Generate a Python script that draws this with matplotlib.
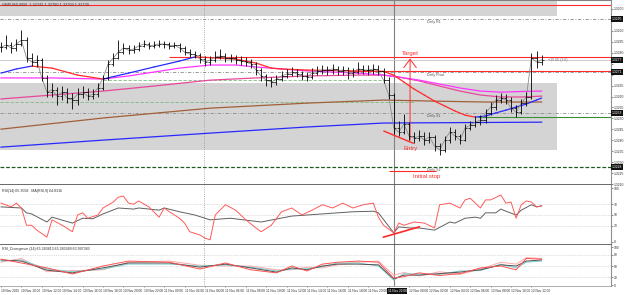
import matplotlib
matplotlib.use('Agg')
import matplotlib.pyplot as plt
import numpy as np

plt.rcParams['font.family'] = ['Liberation Sans', 'DejaVu Sans']

# GBPUSD M30 bars
closes = [1.32826, 1.32835, 1.32822, 1.32840, 1.32858, 1.32776, 1.32758, 1.32767, 1.32685, 1.32620,
          1.32630, 1.32602, 1.32620, 1.32593, 1.32584, 1.32611, 1.32620, 1.32602, 1.32611, 1.32639,
          1.32685, 1.32749, 1.32776, 1.32803, 1.32822, 1.32812, 1.32817, 1.32831, 1.32840, 1.32831,
          1.32835, 1.32840, 1.32840, 1.32831, 1.32835, 1.32822, 1.32803, 1.32794, 1.32790, 1.32771,
          1.32758, 1.32767, 1.32780, 1.32785, 1.32776, 1.32776, 1.32767, 1.32762, 1.32758, 1.32749,
          1.32721, 1.32694, 1.32675, 1.32666, 1.32680, 1.32694, 1.32703, 1.32712, 1.32703, 1.32694,
          1.32689, 1.32707, 1.32717, 1.32721, 1.32721, 1.32726, 1.32717, 1.32721, 1.32707, 1.32712,
          1.32726, 1.32721, 1.32721, 1.32726, 1.32717, 1.32675, 1.32607, 1.32456, 1.32438, 1.32474,
          1.32420, 1.32410, 1.32420, 1.32401, 1.32415, 1.32374, 1.32356, 1.32401, 1.32438, 1.32420,
          1.32401, 1.32456, 1.32470, 1.32483, 1.32493, 1.32525, 1.32552, 1.32584, 1.32593, 1.32584,
          1.32547, 1.32529, 1.32570, 1.32598, 1.32776, 1.32758, 1.32767]
highs = [1.32850, 1.32880, 1.32850, 1.32865, 1.32905, 1.32870, 1.32800, 1.32790, 1.32775, 1.32700,
         1.32660, 1.32645, 1.32650, 1.32640, 1.32615, 1.32640, 1.32650, 1.32640, 1.32635, 1.32660,
         1.32700, 1.32765, 1.32800, 1.32860, 1.32845, 1.32835, 1.32835, 1.32850, 1.32860, 1.32850,
         1.32855, 1.32860, 1.32855, 1.32850, 1.32850, 1.32845, 1.32830, 1.32815, 1.32810, 1.32800,
         1.32785, 1.32785, 1.32810, 1.32815, 1.32800, 1.32795, 1.32790, 1.32785, 1.32780, 1.32770,
         1.32760, 1.32730, 1.32705, 1.32690, 1.32700, 1.32715, 1.32725, 1.32735, 1.32725, 1.32715,
         1.32710, 1.32730, 1.32740, 1.32745, 1.32740, 1.32750, 1.32740, 1.32740, 1.32735, 1.32730,
         1.32760, 1.32745, 1.32745, 1.32750, 1.32745, 1.32730, 1.32690, 1.32615, 1.32490, 1.32520,
         1.32485, 1.32440, 1.32445, 1.32440, 1.32440, 1.32425, 1.32390, 1.32420, 1.32460, 1.32450,
         1.32430, 1.32475, 1.32490, 1.32510, 1.32515, 1.32545, 1.32575, 1.32605, 1.32615, 1.32610,
         1.32600, 1.32560, 1.32590, 1.32620, 1.32800, 1.32810, 1.32790]
lows = [1.32805, 1.32815, 1.32800, 1.32810, 1.32830, 1.32760, 1.32740, 1.32735, 1.32670, 1.32600,
        1.32600, 1.32560, 1.32585, 1.32570, 1.32545, 1.32560, 1.32595, 1.32585, 1.32590, 1.32600,
        1.32630, 1.32675, 1.32740, 1.32770, 1.32795, 1.32795, 1.32800, 1.32810, 1.32825, 1.32815,
        1.32820, 1.32825, 1.32820, 1.32815, 1.32820, 1.32805, 1.32790, 1.32780, 1.32775, 1.32755,
        1.32740, 1.32745, 1.32760, 1.32770, 1.32760, 1.32760, 1.32750, 1.32745, 1.32740, 1.32730,
        1.32700, 1.32670, 1.32650, 1.32645, 1.32655, 1.32670, 1.32685, 1.32695, 1.32690, 1.32675,
        1.32670, 1.32680, 1.32700, 1.32705, 1.32700, 1.32705, 1.32700, 1.32700, 1.32680, 1.32690,
        1.32705, 1.32705, 1.32700, 1.32705, 1.32700, 1.32660, 1.32590, 1.32430, 1.32420, 1.32430,
        1.32400, 1.32390, 1.32395, 1.32380, 1.32390, 1.32350, 1.32335, 1.32345, 1.32390, 1.32400,
        1.32385, 1.32395, 1.32445, 1.32460, 1.32470, 1.32480, 1.32515, 1.32540, 1.32570, 1.32565,
        1.32530, 1.32505, 1.32520, 1.32555, 1.32590, 1.32730, 1.32745]

# moving averages (bar index, price)
ma_long_idx = [0, 20, 41, 60, 75, 90, 106]
ma_long = [1.32369, 1.32401, 1.32433, 1.32461, 1.32479, 1.32481, 1.32483]
ma_brown_idx = [0, 20, 41, 60, 75, 85, 95, 106]
ma_brown = [1.32451, 1.32502, 1.32547, 1.32570, 1.32584, 1.32579, 1.32575, 1.32575]
ma_mid_idx = [0, 3, 6, 10, 15, 20, 25, 30, 35, 38, 40, 46, 50, 53, 55, 60, 65, 70, 75,
              77, 79, 81, 83, 85, 87, 89, 91, 93, 95, 97, 99, 101, 103, 105, 106]
ma_mid = [1.32707, 1.32726, 1.32739, 1.32730, 1.32698, 1.32680, 1.32707, 1.32735, 1.32762, 1.32781,
          1.32779, 1.32771, 1.32753, 1.32730, 1.32726, 1.32721, 1.32719, 1.32717, 1.32715,
          1.32698, 1.32666, 1.32634, 1.32607, 1.32579, 1.32557, 1.32534, 1.32515, 1.32506, 1.32511,
          1.32525, 1.32538, 1.32552, 1.32566, 1.32584, 1.32593]
ma_mag_idx = [0, 10, 20, 25, 30, 35, 41, 46, 50, 55, 60, 65, 70, 75, 78, 82, 86, 90, 94, 98, 102, 106]
ma_mag = [1.32685, 1.32685, 1.32680, 1.32694, 1.32712, 1.32730, 1.32744, 1.32744, 1.32735, 1.32726,
          1.32717, 1.32712, 1.32707, 1.32698, 1.32689, 1.32675, 1.32657, 1.32639, 1.32625, 1.32620,
          1.32623, 1.32625]
ma_pink_idx = [0, 10, 20, 30, 41, 50, 60, 70, 75, 78, 82, 86, 90, 94, 98, 102, 106]
ma_pink = [1.32589, 1.32607, 1.32625, 1.32648, 1.32675, 1.32685, 1.32694, 1.32698, 1.32698, 1.32689,
           1.32671, 1.32648, 1.32625, 1.32607, 1.32598, 1.32598, 1.32602]

# levels
daily_r1, daily_pivot, daily_s1, daily_s2 = 1.32954, 1.32712, 1.32525, 1.32278
current_price = 1.32767
target_level = 1.32780
red_top, red_low = 1.33018, 1.32717
green_upper, green_lower, green_solid = 1.32675, 1.32575, 1.32506
box_top = (1.32968, 1.33060)
box_low = (1.32356, 1.32662)

# RSI panel
rsi_idx = [0, 2, 3, 4, 5, 6, 7, 9, 10, 12, 14, 15, 16, 17, 19, 20, 22, 23, 24, 25,
           26, 27, 29, 31, 32, 33, 35, 36, 37, 39, 40, 41, 42, 44, 46, 48, 50, 51, 53, 55,
           57, 59, 61, 63, 65, 67, 69, 71, 73, 74, 75, 77, 78, 79, 81, 83, 85, 86, 88, 90,
           91, 92, 94, 95, 96, 98, 99, 100, 101, 102, 103, 104, 105, 106]
rsi_val = [72, 65, 72, 63, 31, 31, 22, 9, 41, 31, 19, 50, 54, 44, 50, 63, 74, 83, 85, 72,
           70, 76, 65, 46, 63, 56, 44, 35, 19, 13, 7, 4, 50, 69, 59, 41, 26, 19, 31, 56,
           63, 50, 59, 69, 63, 72, 63, 69, 72, 46, 31, 17, 35, 31, 37, 35, 26, 69, 72, 63,
           78, 81, 63, 78, 78, 87, 72, 74, 44, 69, 76, 74, 65, 67]
rsi_ma_idx = [0, 4, 5, 6, 9, 10, 14, 16, 18, 20, 23, 26, 27, 31, 32, 35, 38, 41, 45, 51,
              57, 63, 69, 73, 74, 77, 78, 80, 82, 85, 88, 89, 91, 93, 94, 95, 97, 98, 99, 101,
              102, 104, 105, 106]
rsi_ma = [65, 63, 54, 52, 37, 46, 35, 44, 43, 52, 63, 61, 63, 59, 63, 56, 50, 41, 44, 37,
          48, 52, 56, 57, 54, 17, 28, 26, 26, 22, 37, 35, 44, 46, 44, 54, 54, 61, 57, 50,
          59, 69, 65, 67]
div_idx = [75, 82]
div_val = [9, 28]

# RSI divergence panel
st_idx = [0, 4, 9, 14, 20, 25, 33, 39, 44, 49, 54, 57, 60, 63, 66, 70, 74, 77, 79, 82, 86, 90, 94, 98, 101, 103, 106]
st_gray = [66, 63, 39, 32, 45, 58, 58, 47, 55, 45, 34, 45, 40, 50, 55, 55, 53, 16, 26, 26, 30, 34, 40, 53, 50, 63, 66]
st_blue = [63, 66, 42, 35, 42, 55, 55, 50, 53, 47, 37, 42, 43, 48, 58, 58, 50, 13, 30, 29, 28, 37, 38, 55, 45, 60, 63]
st_red = [68, 58, 45, 29, 50, 63, 60, 42, 58, 40, 32, 50, 37, 55, 60, 63, 60, 18, 22, 32, 25, 30, 45, 50, 40, 70, 68]
st_pink = [60, 70, 35, 38, 40, 60, 63, 52, 50, 50, 40, 40, 47, 45, 53, 60, 63, 26, 33, 24, 35, 28, 42, 60, 55, 72, 70]

# time axis, one label every 4 bars
time_idx = list(range(0, 107, 4))
time_labels = ['10 Nov 2025', '10 Nov 10:00', '10 Nov 12:00', '10 Nov 14:00', '10 Nov 16:00',
               '10 Nov 18:00', '10 Nov 20:00', '10 Nov 22:00', '11 Nov 00:00', '11 Nov 02:00',
               '11 Nov 04:00', '11 Nov 06:00', '11 Nov 08:00', '11 Nov 10:00', '11 Nov 12:00',
               '11 Nov 14:00', '11 Nov 16:00', '11 Nov 18:00', '11 Nov 20:00', '', '12 Nov 00:00',
               '12 Nov 02:00', '12 Nov 04:00', '12 Nov 06:00', '12 Nov 08:00', '12 Nov 10:00',
               '12 Nov 12:00']
cross_label = '11 Nov 22:00'

RED = '#ff2a2a'
TXT = '#505050'
xlim = (-0.2, 119.6)

fig = plt.figure(figsize=(6.25, 2.95), dpi=100)
W = 611 / 625
ax = fig.add_axes([0, 110 / 295, W, 185 / 295])
ax_rsi = fig.add_axes([0, 50 / 295, W, 60 / 295])
ax_st = fig.add_axes([0, 9 / 295, W, 41 / 295])

for a in (ax, ax_rsi, ax_st):
    a.set_xlim(*xlim)
    a.spines['left'].set_visible(False)
    a.spines['right'].set_color('#909090')
    a.spines['right'].set_linewidth(0.8)
    a.spines['top'].set_visible(False)
    a.spines['bottom'].set_color('#505050')
    a.spines['bottom'].set_linewidth(1.2)
    a.yaxis.tick_right()
    a.tick_params(axis='y', labelsize=2.4, length=1.2, width=0.4, pad=0.8, colors='#303030')
    a.tick_params(axis='x', length=0, labelbottom=False)
    a.axvline(39.8, color='#909090', lw=0.6, ls=':')
    a.axvline(77.06, color='#808080', lw=0.8)
ax.spines['top'].set_visible(True)
ax.spines['top'].set_color('#808080')

# ---- main price panel
ax.set_ylim(1.32196, 1.33041)
ax.fill_between([xlim[0], 109], box_top[0], box_top[1], color='#d4d4d4', lw=0, zorder=0)
ax.fill_between([xlim[0], 109], box_low[0], box_low[1], color='#d4d4d4', lw=0, zorder=0)

ax.axhline(red_top, color=RED, lw=0.8)
ax.axhline(daily_r1, color='#8a8a8a', lw=0.6, ls=(0, (4, 2, 1, 2)))
ax.hlines(target_level, 33, xlim[1], color=RED, lw=0.8)
ax.axhline(current_price, color='#c4c4c4', lw=0.6)
ax.hlines(red_low, 68, xlim[1], color=RED, lw=0.8)
ax.axhline(daily_pivot, color='#8a8a8a', lw=0.6, ls=(0, (4, 2, 1, 2)))
ax.hlines(green_upper, 20, 75.5, color='#80b880', lw=0.6, ls=(0, (4, 2)))
ax.hlines(green_lower, xlim[0], 81, color='#80b880', lw=0.6, ls=(0, (4, 2)))
ax.axhline(daily_s1, color='#8a8a8a', lw=0.6, ls=(0, (4, 2, 1, 2)))
ax.hlines(green_solid, 93.5, xlim[1], color='#3c8c3c', lw=0.8)
ax.axhline(daily_s2, color='#1e5a1e', lw=0.9, ls=(0, (3, 1.5)))

for name, lvl in [('Daily R1', daily_r1), ('Daily Pivot', daily_pivot),
                  ('Daily S1', daily_s1), ('Daily S2', daily_s2)]:
    ax.annotate(name, (83.5, lvl), xytext=(0, -0.6), textcoords='offset points',
                fontsize=2.6, color=TXT, va='top', ha='left')

# moving averages
ax.plot(ma_long_idx, ma_long, color='#2828ff', lw=0.9)
ax.plot(ma_brown_idx, ma_brown, color='#a0603a', lw=0.9)
ax.plot(ma_pink_idx, ma_pink, color='#e8489a', lw=0.9)
ax.plot(ma_mag_idx, ma_mag, color='#ff33ff', lw=0.9)
for i in range(len(ma_mid) - 1):
    c = '#2828ff' if ma_mid[i + 1] > ma_mid[i] else RED
    ax.plot(ma_mid_idx[i:i + 2], ma_mid[i:i + 2], color=c, lw=0.9, solid_capstyle='round')

# price bars
idx = np.arange(len(closes))
opens = [closes[0]] + closes[:-1]
ax.plot(idx, closes, color='#8c8c8c', lw=0.6, zorder=3)
ax.vlines(idx, lows, highs, color='black', lw=0.6, zorder=4)
ax.hlines(opens, idx - 0.45, idx, color='black', lw=0.5, zorder=4)
ax.hlines(closes, idx, idx + 0.45, color='black', lw=0.5, zorder=4)
ax.text(107.3, current_price, '\u221215.56 (3.6)', fontsize=2.6, color='#707070', va='center')

# trade annotations
ax.annotate('', xy=(80.2, 1.32774), xytext=(80.2, 1.32401),
            arrowprops=dict(arrowstyle='->,head_length=0.6,head_width=0.45', color=RED,
                            lw=0.7, mutation_scale=10, shrinkA=0, shrinkB=0))
ax.text(80.2, 1.32797, 'Target', fontsize=4.3, color=RED, ha='center', va='center')
ax.plot([75.1, 80.8], [1.32442, 1.32387], color=RED, lw=1.0)
ax.text(80.3, 1.32363, 'Entry', fontsize=4.3, color=RED, ha='center', va='center')
ax.hlines(1.32260, 76.1, 85.3, color=RED, lw=0.8)
ax.text(83.4, 1.32236, 'Initial stop', fontsize=4.3, color=RED, ha='center', va='center')

ticks = np.arange(1.32200, 1.33001, 0.0005)
boxes = [daily_r1, current_price, daily_pivot, daily_s1, daily_s2]
ax.set_yticks(ticks)
ax.set_yticklabels(['' if min(abs(t - b) for b in boxes) < 0.00018 else f'{t:.4f}' for t in ticks])
for b in boxes:
    ax.text(1.0015, b, f'{b:.4f}', transform=ax.get_yaxis_transform(), fontsize=2.4,
            color='white', va='center', ha='left', clip_on=False,
            bbox=dict(boxstyle='square,pad=0.25', fc='#111111', ec='none'))
fig.text(0.004, 0.993, 'GBPUSD,M30  1.32742 1.32760 1.32709 1.32739', fontsize=2.8,
         color='#303030', va='top')

# ---- RSI panel
ax_rsi.set_ylim(-5.6, 105.6)
ax_rsi.set_yticks([0, 30, 50, 70, 100])
for g in (30, 50, 70):
    ax_rsi.axhline(g, color='#c0c0c0', lw=0.5, ls=(0, (1, 1.5)))
ax_rsi.plot(rsi_ma_idx, rsi_ma, color='#606060', lw=0.7)
ax_rsi.plot(rsi_idx, rsi_val, color='#ff5a5a', lw=0.7)
ax_rsi.plot(div_idx, div_val, color=RED, lw=1.2)
ax_rsi.text(0.004, 0.94, 'RSI(14) 65.3058   MA(RSI,9) 64.8316', transform=ax_rsi.transAxes,
            fontsize=2.6, color='#303030', va='top')

# ---- RSI divergence panel
ax_st.set_ylim(-2.6, 105.3)
ax_st.set_yticks([0, 20, 50, 80, 100])
for g in (20, 50, 80):
    ax_st.axhline(g, color='#c0c0c0', lw=0.5, ls=(0, (1, 1.5)))
ax_st.plot(st_idx, st_pink, color='#ffa8a8', lw=0.7)
ax_st.plot(st_idx, st_blue, color='#7fcfd0', lw=0.7)
ax_st.plot(st_idx, st_gray, color='#505050', lw=0.7)
ax_st.plot(st_idx, st_red, color='#ff5050', lw=0.7)
ax_st.text(0.004, 0.95, 'RSI_Divergence (14) 65.283813 65.283349 63.997383',
           transform=ax_st.transAxes, fontsize=2.6, color='#303030', va='top')
ax_st.spines['bottom'].set_color('#a0a0a0')
ax_st.spines['bottom'].set_linewidth(0.6)
ax_st.tick_params(axis='x', labelbottom=True, labelsize=2.3, length=1, width=0.4, pad=1.2,
                  colors='#303030')
ax_st.set_xticks(time_idx)
ax_st.set_xticklabels(time_labels, ha='left')
ax_st.text(75.8, -0.07, cross_label, transform=ax_st.get_xaxis_transform(), fontsize=2.3,
           color='white', va='top', ha='left', clip_on=False,
           bbox=dict(boxstyle='square,pad=0.2', fc='#111111', ec='none'))

fig.savefig('out.png', dpi=100)
